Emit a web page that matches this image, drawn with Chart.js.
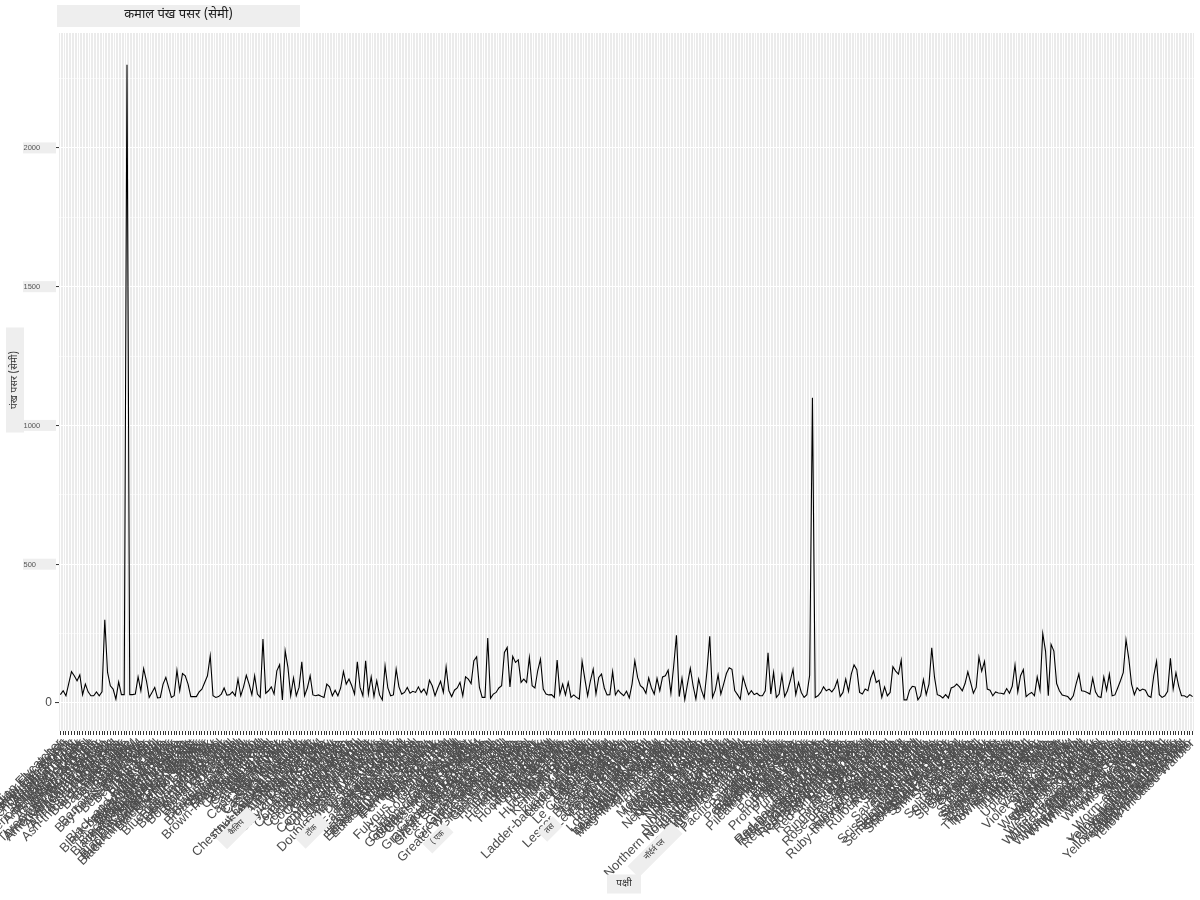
<!DOCTYPE html>
<html lang="hi">
<head>
<meta charset="utf-8">
<title>कमाल पंख पसर (सेमी)</title>
<script src="https://cdn.jsdelivr.net/npm/chart.js@4.4.1/dist/chart.umd.min.js"></script>
<style>
  html, body { margin: 0; padding: 0; background: #ffffff; }
  #contenedor { width: 1200px; height: 900px; }
</style>
</head>
<body>
<div id="contenedor"><canvas id="grafico-pankh" width="1200" height="900"></canvas></div>
<script>
// --- TEXTOS ---
const TITULO = "कमाल पंख पसर (सेमी)";
const TITULO_Y = "पंख पसर (सेमी)";
const TITULO_X = "पक्षी";

// --- DATOS ---
const birds = [
  "Acadian Flycatcher","Alder Flycatcher","American Avocet","American Bittern","American Black Duck","American Coot","American Crow","American Dipper","American Golden-Plover","American Goldfinch","American Kestrel","American Pipit","American Redstart","American Robin","American Three-toed Woodpecker","American Tree Sparrow","American White Pelican","American Wigeon","American Woodcock","Ancient Murrelet","Anna's Hummingbird","Arctic Tern","Ash-throated Flycatcher","Baird's Sandpiper","Bald Eagle",
  "Baltimore Oriole","Bank Swallow","Barn Owl","Barn Swallow","Barred Owl","Barrow's Goldeneye","Bay-breasted Warbler","Bell's Vireo","Belted Kingfisher","Bewick's Wren","Black Rail","Black Scoter","Black Tern","Black Vulture","Black-and-white Warbler","Black-backed Woodpecker","Black-bellied Plover","Black-billed Cuckoo","Black-billed Magpie","Black-capped Chickadee","Black-crowned Night-Heron","Black-headed Grosbeak","Black-legged Kittiwake","Black-necked Stilt","Black-throated Blue Warbler","Black-throated Gray Warbler","Black-throated Green Warbler","Blackburnian Warbler","Blackpoll Warbler","Blue Grosbeak","Blue Jay","Blue-gray Gnatcatcher","Blue-headed Vireo","Blue-winged Teal","Blue-winged Warbler","Bobolink","Bohemian Waxwing","Bonaparte's Gull","Boreal Chickadee","Boreal Owl","Brant","Brewer's Blackbird","Brewer's Sparrow","Broad-winged Hawk","Brown Creeper","Brown Pelican","Brown Thrasher","Brown-headed Cowbird","Bufflehead","Burrowing Owl",
  "Cackling Goose","California Gull","Canada Goose","Canada Jay","Canada Warbler","Canvasback","Cape May Warbler","Carolina Wren","Caspian Tern","Cassin's Kingbird","Cassin's Sparrow","Cattle Egret","Cedar Waxwing","Cerulean Warbler","Chestnut-collared Longspur","Chestnut-sided Warbler","Chimney Swift","Chipping Sparrow","Chuck-will's-widow","Cinnamon Teal","Clark's Grebe","Clark's Nutcracker","Clay-colored Sparrow","Cliff Swallow","Common Eider","Common Gallinule","Common Goldeneye","Common Grackle","Common Loon","Common Merganser","Common Murre","Common Nighthawk","Common Poorwill","Common Raven","Common Redpoll","Common Tern","Common Yellowthroat","Connecticut Warbler","Cooper's Hawk","Cordilleran Flycatcher","Crested Caracara",
  "Dark-eyed Junco","Dickcissel","Double-crested Cormorant","Downy Woodpecker","Dunlin","Dusky Flycatcher",
  "Eared Grebe","Eastern Bluebird","Eastern Kingbird","Eastern Meadowlark","Eastern Phoebe","Eastern Screech-Owl","Eastern Towhee","Eastern Whip-poor-will","Eastern Wood-Pewee","Eurasian Collared-Dove","Eurasian Tree Sparrow","Eurasian Wigeon","European Starling","Evening Grosbeak",
  "Ferruginous Hawk","Field Sparrow","Forster's Tern","Fox Sparrow","Franklin's Gull","Fulvous Whistling-Duck",
  "Gadwall","Glaucous Gull","Glaucous-winged Gull","Glossy Ibis","Golden Eagle","Golden-crowned Kinglet","Golden-crowned Sparrow","Golden-winged Warbler","Grasshopper Sparrow","Gray Catbird","Gray Flycatcher","Gray Partridge","Gray-cheeked Thrush","Gray-crowned Rosy-Finch","Great Black-backed Gull","Great Blue Heron","Great Crested Flycatcher","Great Egret","Great Gray Owl","Great Horned Owl","Great-tailed Grackle","Greater Prairie-Chicken","Greater Scaup","Greater White-fronted Goose","Greater Yellowlegs","Green Heron","Green-tailed Towhee","Green-winged Teal","Gyrfalcon",
  "Hairy Woodpecker","Harlequin Duck","Harris's Hawk","Harris's Sparrow","Henslow's Sparrow","Hermit Thrush","Herring Gull","Hoary Redpoll","Hooded Merganser","Hooded Warbler","Horned Grebe","Horned Lark","House Finch","House Sparrow","House Wren","Hudsonian Godwit",
  "Iceland Gull","Indigo Bunting",
  "Kentucky Warbler","Killdeer","King Eider","King Rail","Kirtland's Warbler",
  "Ladder-backed Woodpecker","Lapland Longspur","Lark Bunting","Lark Sparrow","Laughing Gull","Lazuli Bunting","Le Conte's Sparrow","Least Bittern","Least Flycatcher","Least Sandpiper","Least Tern","Lesser Black-backed Gull","Lesser Goldfinch","Lesser Scaup","Lesser Yellowlegs","Lewis's Woodpecker","Lincoln's Sparrow","Little Blue Heron","Little Gull","Loggerhead Shrike","Long-billed Curlew","Long-billed Dowitcher","Long-eared Owl","Long-tailed Duck","Louisiana Waterthrush",
  "MacGillivray's Warbler","Magnificent Frigatebird","Magnolia Warbler","Mallard","Marbled Godwit","Marsh Wren","Merlin","Mew Gull","Mississippi Kite","Mountain Bluebird","Mourning Dove","Mourning Warbler","Mute Swan",
  "Nashville Warbler","Nelson's Sparrow","Neotropic Cormorant","Northern Bobwhite","Northern Cardinal","Northern Flicker","Northern Gannet","Northern Goshawk","Northern Harrier","Northern Hawk Owl","Northern Mockingbird","Northern Parula","Northern Pintail","Northern Rough-winged Swallow","Northern Saw-whet Owl","Northern Shoveler","Northern Shrike","Northern Waterthrush","Northern Wheatear",
  "Olive-sided Flycatcher","Orange-crowned Warbler","Orchard Oriole","Osprey","Ovenbird",
  "Pacific Golden-Plover","Pacific Loon","Painted Bunting","Palm Warbler","Parasitic Jaeger","Pectoral Sandpiper","Peregrine Falcon","Philadelphia Vireo","Pied-billed Grebe","Pileated Woodpecker","Pine Grosbeak","Pine Siskin","Pine Warbler","Piping Plover","Pomarine Jaeger","Prairie Falcon",
  "Prairie Warbler","Prothonotary Warbler","Purple Finch","Purple Martin","Purple Sandpiper",
  "Red Crossbill","Red Knot","Red Phalarope","Red-bellied Woodpecker","Red-breasted Merganser","Red-breasted Nuthatch","Red-eyed Vireo","Red-headed Woodpecker","Red-necked Grebe","Red-necked Phalarope","Red-shouldered Hawk","Red-tailed Hawk","Red-throated Loon","Red-winged Blackbird","Reddish Egret","Redhead","Ring-billed Gull","Ring-necked Duck","Ring-necked Pheasant","Rock Pigeon","Rock Wren","Rose-breasted Grosbeak","Roseate Spoonbill","Roseate Tern","Ross's Goose","Rough-legged Hawk","Ruby-crowned Kinglet","Ruby-throated Hummingbird","Ruddy Duck","Ruddy Turnstone","Ruffed Grouse","Rufous Hummingbird","Rusty Blackbird",
  "Sabine's Gull","Sage Thrasher","Sanderling","Sandhill Crane","Savannah Sparrow","Say's Phoebe","Scarlet Tanager","Scissor-tailed Flycatcher","Sedge Wren","Semipalmated Plover","Semipalmated Sandpiper","Sharp-shinned Hawk","Sharp-tailed Grouse","Short-billed Dowitcher","Short-eared Owl","Short-tailed Hawk","Smith's Longspur","Snail Kite","Snow Bunting","Snow Goose","Snowy Egret","Snowy Owl","Solitary Sandpiper","Song Sparrow","Sooty Shearwater","Sora","Spotted Sandpiper","Spotted Towhee","Sprague's Pipit","Spruce Grouse","Steller's Jay","Stilt Sandpiper","Summer Tanager","Surf Scoter","Swainson's Hawk","Swainson's Thrush","Swallow-tailed Kite","Swamp Sparrow",
  "Tennessee Warbler","Thayer's Gull","Thick-billed Longspur","Townsend's Solitaire","Townsend's Warbler","Tree Swallow","Tricolored Heron","Trumpeter Swan","Tufted Titmouse","Tundra Swan","Turkey Vulture",
  "Upland Sandpiper",
  "Varied Thrush","Vaux's Swift","Veery","Vesper Sparrow","Violet-green Swallow","Virginia Rail",
  "Warbling Vireo","Western Grebe","Western Gull","Western Kingbird","Western Meadowlark","Western Sandpiper","Western Scrub-Jay","Western Tanager","Western Wood-Pewee","Whimbrel","White Ibis","White-breasted Nuthatch","White-crowned Sparrow","White-eyed Vireo","White-faced Ibis","White-rumped Sandpiper","White-throated Sparrow","White-winged Crossbill","White-winged Dove","White-winged Scoter","Whooping Crane","Wild Turkey","Willet","Willow Flycatcher","Wilson's Phalarope","Wilson's Snipe","Wilson's Warbler","Winter Wren","Wood Duck","Wood Stork","Wood Thrush","Worm-eating Warbler",
  "Yellow Rail","Yellow Warbler","Yellow-bellied Flycatcher","Yellow-bellied Sapsucker","Yellow-billed Cuckoo","Yellow-breasted Chat","Yellow-crowned Night-Heron","Yellow-headed Blackbird","Yellow-rumped Warbler","Yellow-throated Vireo","Yellow-throated Warbler"
];

// पंख पसर (सेमी)
const maxWingspan = [
  30,44,26,70,113,98,80,101,30,68, 40,26,26,40,26,40,300,110,62,50,
  14,76,30,30,2300,30,30,32,94,44, 124,80,20,38,56,18,20,68,92,56,
  20,26,118,44,106,98,68,23,23,23, 40,50,74,98,170,26,20,23,32,54,
  28,30,40,26,86,26,58,100,68,30, 98,
  32,20,230,35,44,58,32,116,138,11, 188,128,26,90,26,56,148,26,54,98,
  29,26,29,24,20,68,58,26,46,26, 54,113,68,86,62,32,148,56,26,152,
  32,94,23,80,29,11,134,54,26,29, 122,58,32,38,56,35,42,38,58,38,
  50,30,82,62,26,54,78,38,130,44,
  23,46,54,74,26,94,86,70,152,166, 56,20,20,234,17,32,38,54,62,182,
  200,58,168,146,155,74,86,74,164,62, 54,116,158,50,32,29,30,20,155,32,
  68,29,74,20,29,20,14,150,86,26, 80,122,32,92,104,54,29,30,113,29,
  46,35,26,42,18,68,152,92,62,
  54,35,90,54,32,89,44,94,98,118, 35,133,244,23,89,12,70,125,62,14,
  86,46,18,115,240,20,46,101,32,68, 106,127,121,45,30,14,94,60,30,44,
  30,35,26,26,44,181,32,110,20,32, 100,23,44,80,121,30,74,38,20,30,
  100,1100,20,26,38,58,44,50,
  40,54,82,23,38,86,42,104,137,120, 38,32,50,44,89,115,74,82,20,58,
  26,38,131,115,104,154,11,11,46,60, 58,11,26,84,30,68,199,92,30,26,
  18,30,18,54,58,68,58,44,70,112, 74,35,56,165,115,150,50,46,26,40,
  36,35,
  32,52,35,60,137,40,98,120,23,32, 38,26,94,46,250,187,26,211,187,70,
  44,29,26,23,11,26,68,104,44,42, 38,32,89,40,23,20,94,46,104,26,
  29,54,80,109,228,160,68,30,55,44, 50,46,26,20,98,150,30,20,26,42,
  161,50,109,60,26,26,20,30,23
];

const yTicksMajor = [0, 500, 1000, 1500, 2000];
const yTicksMinor = [250, 750, 1250, 1750, 2250];

// --- ESTILO ---
const FUENTE_HI = '"Noto Sans Devanagari", "Noto Sans", "DejaVu Sans", sans-serif';
const FUENTE_EJES = '"Liberation Sans", Arial, sans-serif';
const GRIS_CAJA = '#eeeeee';

// fondo gris del panel (estilo ggplot)
const fondoPanel = {
  id: 'fondoPanel',
  beforeDraw(chart) {
    const { ctx, chartArea: a } = chart;
    ctx.save();
    ctx.fillStyle = '#ebebeb';
    ctx.fillRect(a.left, a.top, a.right - a.left, a.bottom - a.top);
    ctx.restore();
  }
};

function cajaTexto(ctx, texto, cx, cy, w, h, angulo, size, color) {
  ctx.save();
  ctx.translate(cx, cy);
  ctx.rotate(angulo);
  ctx.fillStyle = GRIS_CAJA;
  ctx.fillRect(-w / 2, -h / 2, w, h);
  ctx.fillStyle = color || '#222222';
  ctx.font = `${size}px ${FUENTE_HI}`;
  ctx.textAlign = 'center';
  ctx.textBaseline = 'middle';
  ctx.fillText(texto, 0, 0);
  ctx.restore();
}

// títulos y etiquetas con caja gris
const titulosConCaja = {
  id: 'titulosConCaja',
  afterDraw(chart) {
    const { ctx } = chart;
    const y = chart.scales.y;

    cajaTexto(ctx, TITULO, 178.5, 16, 243, 22, 0, 13, '#1a1a1a');
    cajaTexto(ctx, TITULO_Y, 15, 380, 105, 18, -Math.PI / 2, 10, '#333');
    cajaTexto(ctx, TITULO_X, 624, 884, 34, 19, 0, 10, '#333');

    // etiquetas del eje y (menos el 0, que dibuja Chart.js)
    ctx.save();
    yTicksMajor.filter(v => v !== 0).forEach(v => {
      const py = y.getPixelForValue(v);
      ctx.fillStyle = GRIS_CAJA;
      ctx.fillRect(23, py - 5.5, 33, 11);
      ctx.fillStyle = '#555555';
      ctx.font = `7.5px ${FUENTE_EJES}`;
      ctx.textAlign = 'left';
      ctx.textBaseline = 'middle';
      ctx.fillText(String(v), 23.5, py + 0.5);
    });
    ctx.restore();

    // recuadros sueltos encima de las etiquetas del eje x
    const sueltos = [
      { t: 'कैलिप', x: 237, y: 828, w: 44, h: 16 },
      { t: 'टॉक', x: 312, y: 831, w: 34, h: 16 },
      { t: '( एक', x: 438, y: 838, w: 30, h: 14 },
      { t: 'तस', x: 550, y: 829, w: 22, h: 14 },
      { t: 'नॉर्दर्न प्ल', x: 655, y: 850, w: 62, h: 16 },
    ];
    sueltos.forEach(s => cajaTexto(ctx, s.t, s.x, s.y, s.w, s.h, -Math.PI / 4, 8, '#333'));
  }
};

// --- GRÁFICO ---
const ctx = document.getElementById('grafico-pankh').getContext('2d');

new Chart(ctx, {
  type: 'line',
  data: {
    labels: birds,
    datasets: [{
      label: TITULO,
      data: maxWingspan,
      borderColor: '#000000',
      borderWidth: 1.1,
      pointRadius: 0,
      tension: 0,
      fill: false,
    }],
  },
  options: {
    responsive: false,
    animation: false,
    devicePixelRatio: 1,
    layout: { padding: { top: 33, left: 23, right: 6, bottom: 0 } },
    plugins: {
      legend: { display: false },
      tooltip: { enabled: false },
      title: { display: false },
    },
    scales: {
      x: {
        type: 'category',
        offset: true,
        border: { display: false },
        grid: {
          color: '#ffffff',
          lineWidth: 1,
          drawTicks: true,
          tickLength: 4,
          tickColor: '#333333',
          tickWidth: 1,
        },
        ticks: {
          autoSkip: false,
          minRotation: 45,
          maxRotation: 45,
          padding: 1,
          color: '#4d4d4d',
          font: { family: FUENTE_EJES, size: 13 },
        },
        afterFit(scale) {
          scale.paddingLeft = 0;
          scale.paddingRight = 0;
          scale.height = 169;
        },
      },
      y: {
        type: 'linear',
        min: -101,
        max: 2414,
        border: { display: false },
        afterBuildTicks(scale) {
          scale.ticks = [...yTicksMajor, ...yTicksMinor]
            .sort((a, b) => a - b)
            .map(v => ({ value: v }));
        },
        grid: {
          color: '#ffffff',
          lineWidth: c => (yTicksMajor.includes(c.tick.value) ? 1.1 : 0.55),
          tickLength: 4,
          tickColor: c => (yTicksMajor.includes(c.tick.value) ? '#333333' : 'rgba(0,0,0,0)'),
          tickWidth: 1,
        },
        ticks: {
          callback: v => (v === 0 ? '0' : ''),
          color: '#4d4d4d',
          padding: 3,
          font: { family: FUENTE_EJES, size: 12 },
        },
        afterFit(scale) {
          scale.width = 36;
        },
      },
    },
  },
  plugins: [fondoPanel, titulosConCaja],
});
</script>
</body>
</html>
